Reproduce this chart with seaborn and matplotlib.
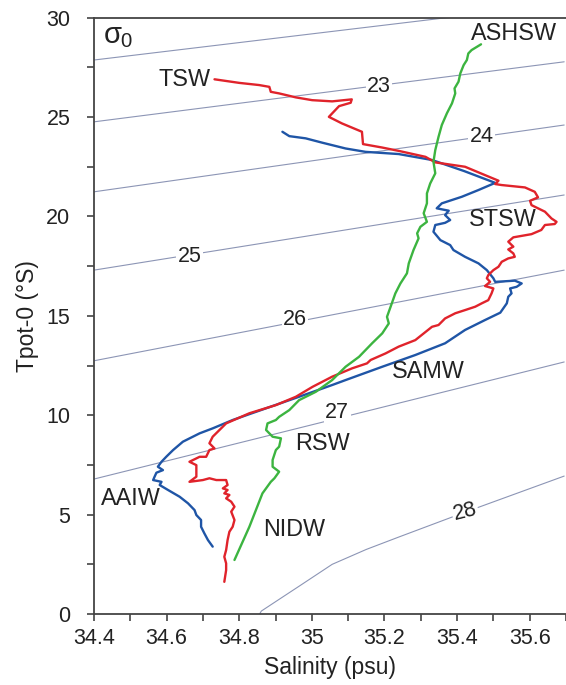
import numpy as np
import pandas as pd
import matplotlib
matplotlib.use("Agg")
import matplotlib.pyplot as plt
import seaborn as sns

# ---------------- data ----------------
# red profile (TSW ... down to deep water)
red_s = [34.732, 34.800, 34.855, 34.883, 34.887, 34.910, 34.956, 35.001, 35.056, 35.110,
         35.107, 35.075, 35.047, 35.083, 35.138, 35.141, 35.193, 35.239, 35.313, 35.340,
         35.422, 35.477, 35.514, 35.505, 35.523, 35.587, 35.614, 35.623, 35.601, 35.605,
         35.642, 35.660, 35.674, 35.669, 35.642, 35.632, 35.605, 35.555, 35.541, 35.555,
         35.541, 35.555, 35.559, 35.541, 35.523, 35.514, 35.500, 35.486, 35.482, 35.491,
         35.477, 35.500, 35.495, 35.486, 35.468, 35.450, 35.422, 35.395, 35.367, 35.349,
         35.331, 35.285, 35.239, 35.203, 35.162, 35.152, 35.111, 35.056, 35.002, 34.956,
         34.901, 34.828, 34.764, 34.727, 34.718, 34.732, 34.718, 34.709, 34.691, 34.663,
         34.682, 34.682, 34.663, 34.700, 34.718, 34.737, 34.764, 34.768, 34.755, 34.768,
         34.759, 34.773, 34.764, 34.778, 34.787, 34.778, 34.787, 34.782, 34.773, 34.768,
         34.764, 34.759, 34.764, 34.764, 34.759]
red_t = [26.90, 26.72, 26.61, 26.52, 26.27, 26.19, 25.99, 25.85, 25.79, 25.89,
         25.72, 25.55, 25.01, 24.68, 24.26, 23.64, 23.47, 23.30, 23.00, 22.72,
         22.50, 22.08, 21.80, 21.63, 21.58, 21.46, 21.24, 20.96, 20.79, 20.57,
         20.24, 19.90, 19.73, 19.62, 19.57, 19.32, 19.11, 18.95, 18.73, 18.48,
         18.34, 18.14, 17.97, 17.89, 17.72, 17.47, 17.30, 17.05, 16.89, 16.71,
         16.50, 16.38, 16.13, 15.79, 15.63, 15.46, 15.29, 15.13, 14.87, 14.54,
         14.45, 13.78, 13.45, 13.11, 12.78, 12.61, 12.36, 11.94, 11.43, 10.93,
         10.51, 10.10, 9.59, 8.92, 8.59, 8.33, 8.25, 7.91, 7.91, 7.66,
         7.49, 6.91, 6.65, 6.74, 6.83, 6.74, 6.74, 6.49, 6.32, 6.24,
         6.07, 5.99, 5.82, 5.65, 5.40, 5.15, 4.73, 4.39, 4.14, 3.72,
         3.22, 2.88, 2.55, 2.21, 1.62]

# blue profile
blue_s = [34.919, 34.938, 34.983, 35.029, 35.093, 35.148, 35.239, 35.331, 35.420, 35.505,
          35.459, 35.413, 35.358, 35.344, 35.377, 35.367, 35.381, 35.367, 35.340, 35.335,
          35.354, 35.381, 35.390, 35.422, 35.459, 35.482, 35.500, 35.505, 35.559, 35.578,
          35.564, 35.546, 35.550, 35.541, 35.537, 35.519, 35.477, 35.422, 35.367, 35.285,
          35.194, 35.093, 35.056, 34.965, 34.874, 34.782, 34.727, 34.691, 34.645, 34.618,
          34.599, 34.586, 34.576, 34.590, 34.572, 34.567, 34.563, 34.586, 34.581, 34.604,
          34.636, 34.659, 34.677, 34.682, 34.695, 34.695, 34.704, 34.714, 34.727]
blue_t = [24.26, 24.04, 23.93, 23.71, 23.42, 23.25, 23.14, 22.84, 22.28, 21.69,
          21.33, 20.99, 20.66, 20.41, 20.29, 20.07, 19.82, 19.68, 19.57, 19.23,
          18.81, 18.56, 18.31, 17.97, 17.64, 17.30, 16.89, 16.71, 16.77, 16.63,
          16.46, 16.38, 16.13, 15.96, 15.63, 15.16, 14.79, 14.29, 13.62, 13.03,
          12.44, 11.77, 11.52, 10.93, 10.35, 9.76, 9.34, 9.09, 8.67, 8.25,
          7.91, 7.66, 7.41, 7.24, 7.11, 6.91, 6.74, 6.65, 6.49, 6.24,
          5.90, 5.57, 5.23, 4.98, 4.73, 4.39, 4.06, 3.72, 3.39]

# green profile (ASHSW ... NIDW)
green_s = [35.466, 35.440, 35.431, 35.427, 35.418, 35.409, 35.404, 35.393, 35.395, 35.386,
           35.372, 35.358, 35.349, 35.340, 35.335, 35.340, 35.326, 35.317, 35.317, 35.308,
           35.317, 35.299, 35.290, 35.294, 35.280, 35.267, 35.262, 35.244, 35.230, 35.217,
           35.207, 35.212, 35.194, 35.166, 35.130, 35.093, 35.056, 35.011, 34.965, 34.938,
           34.910, 34.901, 34.878, 34.874, 34.892, 34.915, 34.910, 34.901, 34.892, 34.892,
           34.910, 34.897, 34.887, 34.864, 34.828, 34.787]
green_t = [28.66, 28.37, 28.20, 27.87, 27.61, 27.20, 26.78, 26.44, 26.19, 25.69,
           25.19, 24.60, 24.01, 23.34, 22.75, 22.17, 21.66, 21.16, 20.66, 20.16,
           19.73, 19.48, 19.15, 18.90, 18.31, 17.64, 17.14, 16.63, 16.13, 15.46,
           14.95, 14.62, 14.12, 13.62, 12.94, 12.44, 11.77, 11.18, 10.76, 10.26,
           9.92, 9.76, 9.59, 9.26, 8.92, 8.84, 8.42, 8.25, 7.75, 7.41,
           7.16, 6.83, 6.65, 6.07, 4.39, 2.72]

# sigma-0 isopycnals, a few points each (S, T)
iso_levels = [22, 23, 24, 25, 26, 27, 28]
iso_s = [[34.4, 35.7], [34.4, 35.695], [34.4, 35.695], [34.4, 35.695],
         [34.4, 35.695], [34.4, 35.695],
         [34.84, 34.861, 34.915, 34.965, 35.056, 35.150, 35.239, 35.423, 35.695]]
iso_t = [[27.87, 30.72], [24.76, 27.78], [21.24, 24.60], [17.30, 21.08],
         [12.74, 17.30], [6.79, 12.68],
         [-0.5, 0.15, 0.80, 1.40, 2.50, 3.25, 3.87, 5.13, 6.94]]

# contour label positions
iso_lab = ["23", "24", "25", "26", "27", "28"]
iso_lab_s = [35.185, 35.468, 34.663, 34.954, 35.070, 35.422]
iso_lab_t = [26.52, 24.01, 17.97, 14.82, 10.14, 5.15]
iso_lab_rot = [0, 0, 0, 0, 0, 14]

# water mass labels
wm_names = ["TSW", "ASHSW", "STSW", "SAMW", "RSW", "AAIW", "NIDW"]
wm_s = [34.650, 35.558, 35.525, 35.322, 35.029, 34.503, 34.951]
wm_t = [26.91, 29.22, 19.87, 12.19, 8.59, 5.82, 4.23]

# ---------------- plot ----------------
sns.set_style("ticks")
plt.rcParams["font.family"] = ["Liberation Sans", "DejaVu Sans"]
plt.rcParams["mathtext.fontset"] = "custom"
plt.rcParams["mathtext.rm"] = "Liberation Sans"
plt.rcParams["mathtext.it"] = "Liberation Sans"

fig = plt.figure(figsize=(5.66, 6.85), dpi=100)
ax = fig.add_axes([0.166, 0.1036, 0.834, 0.8706])

iso_color = "#8c95b5"
for s, t in zip(iso_s, iso_t):
    ax.plot(s, t, color=iso_color, lw=0.8, zorder=1)

for name, s, t, r in zip(iso_lab, iso_lab_s, iso_lab_t, iso_lab_rot):
    ax.text(s, t, name, fontsize=15.5, color="#222222", ha="center", va="center",
            rotation=r, zorder=2,
            bbox=dict(facecolor="white", edgecolor="none", pad=1.0))

profiles = pd.concat([
    pd.DataFrame({"S": blue_s, "T": blue_t, "cast": "blue"}),
    pd.DataFrame({"S": red_s, "T": red_t, "cast": "red"}),
    pd.DataFrame({"S": green_s, "T": green_t, "cast": "green"}),
])
palette = {"blue": "#1f55a6", "red": "#e0232b", "green": "#3cb440"}
for cast in ["blue", "red", "green"]:
    sub = profiles[profiles["cast"] == cast]
    sns.lineplot(data=sub, x="S", y="T", sort=False, estimator=None,
                 color=palette[cast], lw=1.7, ax=ax, zorder=3)

for name, s, t in zip(wm_names, wm_s, wm_t):
    ax.text(s, t, name, fontsize=16.8, color="#222222", ha="center", va="center", zorder=4)

ax.text(34.425, 29.1, r"$\sigma_0$", fontsize=21, color="#222222", ha="left", va="center")

ax.set_xlim(34.4, 35.7)
ax.set_ylim(0, 30)
ax.set_xticks([34.4, 34.6, 34.8, 35.0, 35.2, 35.4, 35.6])
ax.set_xticklabels(["34.4", "34.6", "34.8", "35", "35.2", "35.4", "35.6"])
ax.set_xticks(np.arange(34.5, 35.75, 0.2), minor=True)
ax.set_yticks([0, 5, 10, 15, 20, 25, 30])
ax.set_yticks([2.5, 7.5, 12.5, 17.5, 22.5, 27.5], minor=True)

spine_c = "#444444"
for side in ["left", "bottom", "top"]:
    ax.spines[side].set_color(spine_c)
    ax.spines[side].set_linewidth(1.3)
ax.spines["right"].set_visible(False)
ax.tick_params(which="both", direction="out", length=5, width=1.2, color=spine_c,
               top=False, right=False)
ax.tick_params(axis="x", labelsize=15.5, pad=5, labelcolor="#222222")
ax.tick_params(axis="y", labelsize=15.5, pad=12, labelcolor="#222222")

ax.set_xlabel("Salinity (psu)", fontsize=16.5, color="#222222", labelpad=5)
ax.set_ylabel("Tpot-0 (°S)", fontsize=16.5, color="#222222", labelpad=5)

fig.savefig("out.png", dpi=100)
